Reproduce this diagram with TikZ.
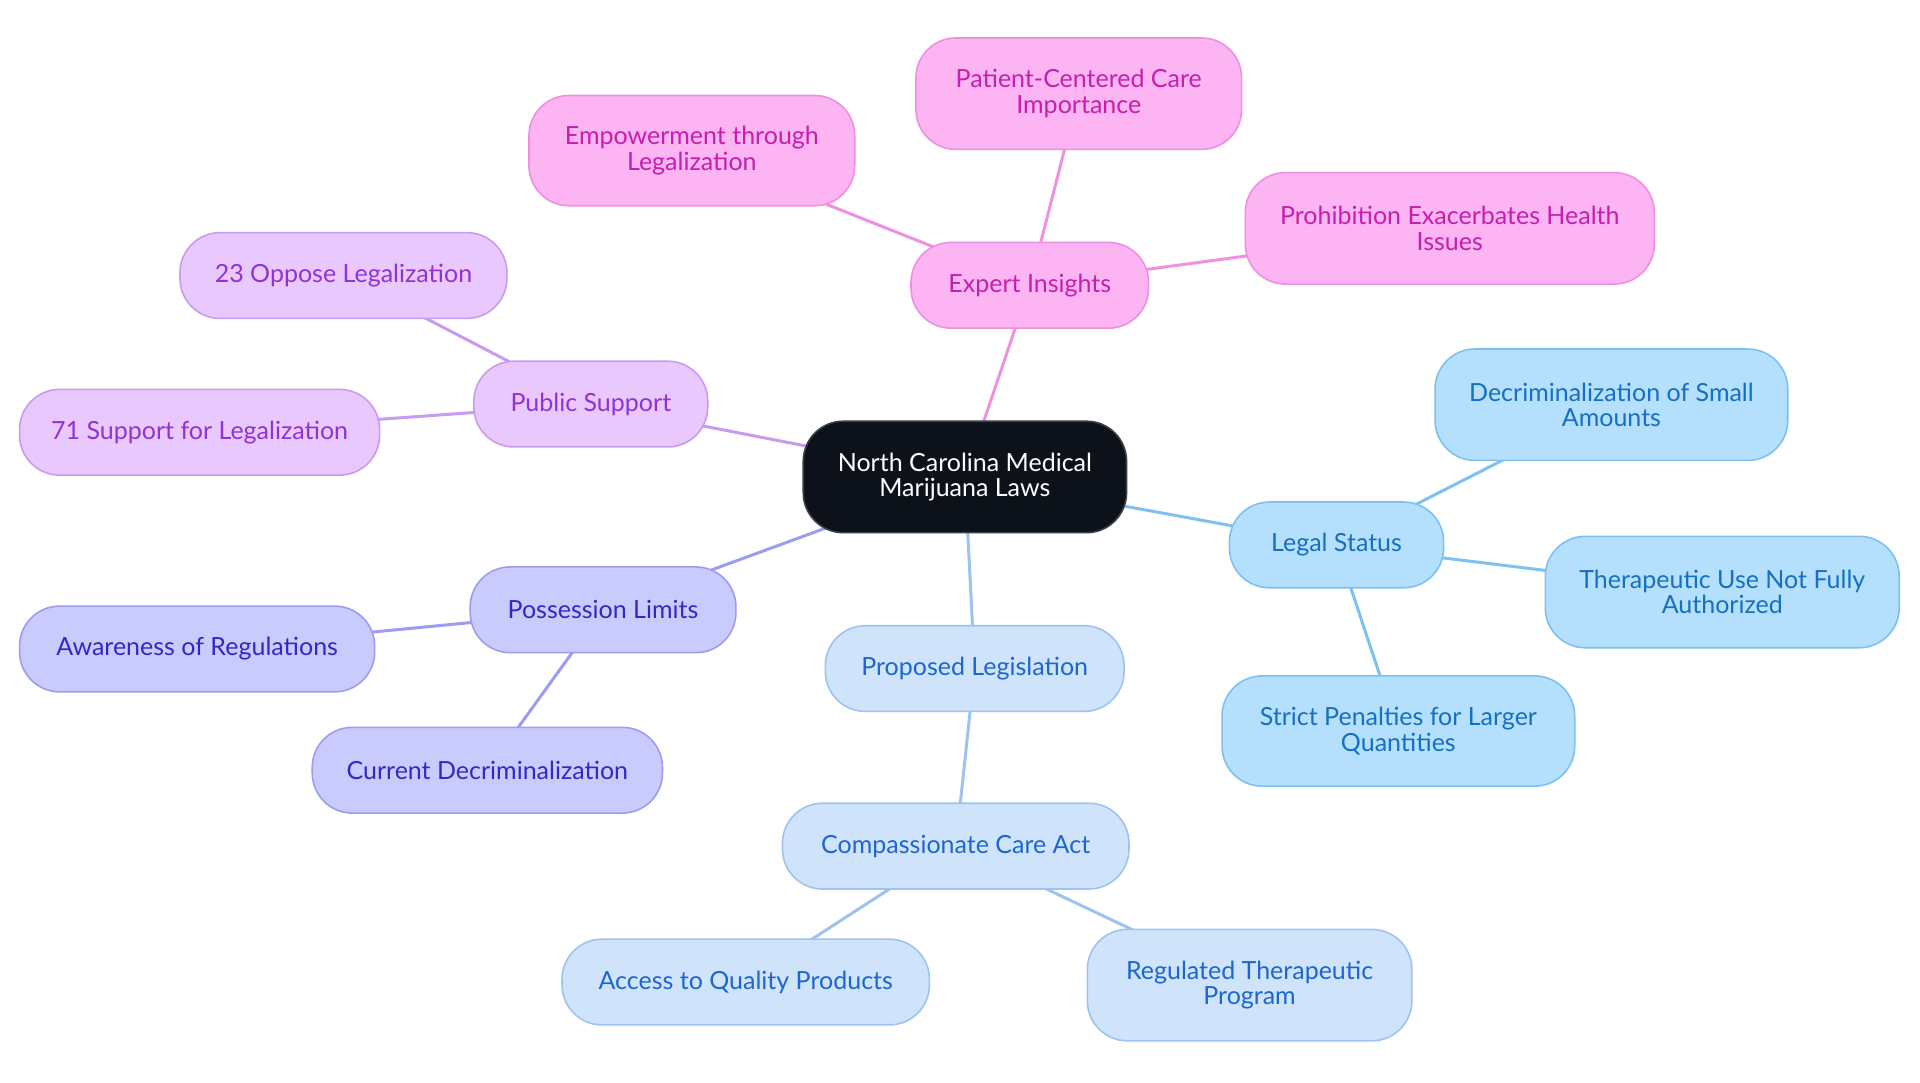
\documentclass[tikz,border=0pt]{standalone}
\usepackage{fontspec}
\setmainfont{Lato}
\begin{document}
\begin{tikzpicture}[x=1.2245pt,y=-1.2245pt,
  every node/.style={font=\fontsize{25}{25.5}\selectfont},
  mm/.style={rounded corners=40pt, line width=1.6pt, align=center, inner sep=0pt},
  root/.style={mm, fill=rootfill, draw=rootdraw, text=white},
  pinkbox/.style={mm, fill=pinkfill, draw=pinkdraw, text=pinktext},
  lavbox/.style={mm, fill=lavfill, draw=lavdraw, text=lavtext},
  perbox/.style={mm, fill=perfill, draw=perdraw, text=pertext},
  propbox/.style={mm, fill=propfill, draw=propdraw, text=proptext},
  legbox/.style={mm, fill=legfill, draw=legdraw, text=legtext},
  sz/.style 2 args={minimum width=#1*1.2245pt, minimum height=#2*1.2245pt},
  link/.style={line width=3pt}
]
\definecolor{rootfill}{HTML}{0D121A}
\definecolor{rootdraw}{HTML}{3A3F47}
\definecolor{pinkfill}{HTML}{FCB4F3}
\definecolor{pinkdraw}{HTML}{F08FE2}
\definecolor{pinktext}{HTML}{C41FAE}
\definecolor{pinkline}{HTML}{F090E2}
\definecolor{lavfill}{HTML}{E8C8FD}
\definecolor{lavdraw}{HTML}{C99BF0}
\definecolor{lavtext}{HTML}{9033D6}
\definecolor{lavline}{HTML}{C99BF0}
\definecolor{perfill}{HTML}{CACBFD}
\definecolor{perdraw}{HTML}{9C9CF0}
\definecolor{pertext}{HTML}{3527C4}
\definecolor{perline}{HTML}{9C9CF0}
\definecolor{propfill}{HTML}{CFE3FB}
\definecolor{propdraw}{HTML}{9DC4F0}
\definecolor{proptext}{HTML}{1D66CF}
\definecolor{propline}{HTML}{9DC4EF}
\definecolor{legfill}{HTML}{B4DFFD}
\definecolor{legdraw}{HTML}{7EC1F0}
\definecolor{legtext}{HTML}{1570C1}
\definecolor{legline}{HTML}{7EC1F0}

\useasboundingbox[fill=white] (0,0) rectangle (1568,884.4);

% node positions
\coordinate (pc) at (788,389.5);
\coordinate (pe) at (841,233);
\coordinate (pp) at (881,76.5);
\coordinate (pm) at (565,123);
\coordinate (ph) at (1184,186.5);
\coordinate (pu) at (482.5,330);
\coordinate (po) at (280.5,225);
\coordinate (ps) at (163,353);
\coordinate (pl) at (492.5,498);
\coordinate (pa) at (161,530);
\coordinate (pd) at (398,629);
\coordinate (pg) at (796,546);
\coordinate (pk) at (780.5,691);
\coordinate (pq) at (609,802);
\coordinate (pr) at (1020.5,804.5);
\coordinate (pt) at (1091.5,445);
\coordinate (px) at (1316,330.5);
\coordinate (py) at (1406.5,483.5);
\coordinate (pz) at (1142,597);

% connectors (centre to centre, under the nodes)
\draw[link, pinkline] (pc) -- (pe);
\draw[link, pinkline] (pe) -- (pp);
\draw[link, pinkline] (pe) -- (pm);
\draw[link, pinkline] (pe) -- (ph);
\draw[link, lavline] (pc) -- (pu);
\draw[link, lavline] (pu) -- (po);
\draw[link, lavline] (pu) -- (ps);
\draw[link, perline] (pc) -- (pl);
\draw[link, perline] (pl) -- (pa);
\draw[link, perline] (pl) -- (pd);
\draw[link, propline] (pc) -- (pg);
\draw[link, propline] (pg) -- (pk);
\draw[link, propline] (pk) -- (pq);
\draw[link, propline] (pk) -- (pr);
\draw[link, legline] (pc) -- (pt);
\draw[link, legline] (pt) -- (px);
\draw[link, legline] (pt) -- (py);
\draw[link, legline] (pt) -- (pz);

% nodes
\node[root, sz={264}{91}] (c) at (pc) {North Carolina Medical\\Marijuana Laws};
\node[pinkbox, sz={194}{70}] (e) at (pe) {Expert Insights};
\node[pinkbox, sz={266}{91}] (p) at (pp) {Patient-Centered Care\\Importance};
\node[pinkbox, sz={266}{90}] (m) at (pm) {Empowerment through\\Legalization};
\node[pinkbox, sz={334}{91}] (h) at (ph) {Prohibition Exacerbates Health\\Issues};
\node[lavbox, sz={191}{70}] (u) at (pu) {Public Support};
\node[lavbox, sz={267}{70}] (o) at (po) {23 Oppose Legalization};
\node[lavbox, sz={294}{70}] (s) at (ps) {71 Support for Legalization};
\node[perbox, sz={217}{70}] (l) at (pl) {Possession Limits};
\node[perbox, sz={290}{70}] (a) at (pa) {Awareness of Regulations};
\node[perbox, sz={286}{70}] (d) at (pd) {Current Decriminalization};
\node[propbox, sz={244}{70}] (g) at (pg) {Proposed Legislation};
\node[propbox, sz={283}{70}] (k) at (pk) {Compassionate Care Act};
\node[propbox, sz={300}{70}] (q) at (pq) {Access to Quality Products};
\node[propbox, sz={265}{91}] (r) at (pr) {Regulated Therapeutic\\Program};
\node[legbox, sz={175}{70}] (t) at (pt) {Legal Status};
\node[legbox, sz={288}{91}] (x) at (px) {Decriminalization of Small\\Amounts};
\node[legbox, sz={289}{91}] (y) at (py) {Therapeutic Use Not Fully\\Authorized};
\node[legbox, sz={288}{90}] (z) at (pz) {Strict Penalties for Larger\\Quantities};
\end{tikzpicture}
\end{document}
